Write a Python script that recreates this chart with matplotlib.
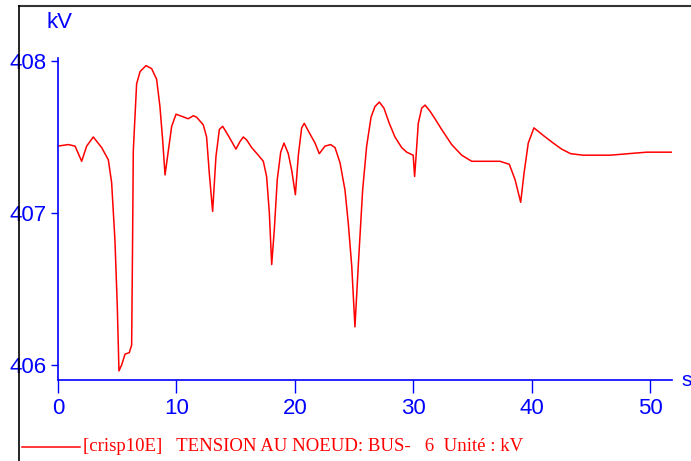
import matplotlib
matplotlib.use("Agg")
import matplotlib.pyplot as plt
from matplotlib.lines import Line2D

# time (s) and voltage (kV)
t = [0.0, 0.87, 1.44, 2.0, 2.42, 2.98, 3.69, 4.25, 4.53, 4.81, 5.01, 5.15, 5.38, 5.66,
     6.02, 6.22, 6.3, 6.36, 6.64, 6.93, 7.43, 7.91, 8.33, 8.61, 8.84, 9.04, 9.32, 9.6,
     9.97, 11.0, 11.43, 11.71, 12.27, 12.55, 12.78, 13.06, 13.34, 13.63, 13.91, 14.38,
     15.03, 15.37, 15.65, 15.94, 16.36, 16.92, 17.34, 17.62, 17.85, 18.05, 18.27, 18.52,
     18.81, 19.09, 19.45, 19.74, 20.05, 20.3, 20.58, 20.8, 21.28, 21.71, 22.07, 22.55,
     23.03, 23.4, 23.82, 24.24, 24.52, 24.81, 25.08, 25.36, 25.73, 26.07, 26.44, 26.77,
     27.14, 27.53, 27.98, 28.46, 29.03, 29.45, 30.0, 30.12, 30.24, 30.43, 30.72, 31.0,
     31.42, 31.84, 32.4, 33.25, 34.1, 34.94, 37.33, 38.12, 38.6, 39.08, 39.36, 39.72,
     40.2, 40.99, 41.83, 42.54, 43.3, 44.36, 46.62, 49.72, 51.82]
v = [407.44, 407.45, 407.44, 407.34, 407.44, 407.50, 407.43, 407.35, 407.20, 406.82,
     406.38, 405.96, 406.00, 406.07, 406.08, 406.13, 406.82, 407.41, 407.85, 407.93,
     407.97, 407.95, 407.88, 407.70, 407.48, 407.25, 407.41, 407.57, 407.65, 407.62,
     407.64, 407.63, 407.58, 407.50, 407.26, 407.01, 407.37, 407.55, 407.57, 407.51,
     407.42, 407.47, 407.50, 407.48, 407.43, 407.38, 407.34, 407.24, 407.00, 406.66,
     406.89, 407.22, 407.40, 407.46, 407.39, 407.28, 407.12, 407.38, 407.56, 407.59,
     407.52, 407.46, 407.39, 407.44, 407.45, 407.43, 407.33, 407.15, 406.93, 406.65,
     406.25, 406.65, 407.15, 407.44, 407.63, 407.70, 407.73, 407.69, 407.59, 407.50,
     407.43, 407.40, 407.38, 407.24, 407.37, 407.59, 407.69, 407.71, 407.67, 407.62,
     407.55, 407.45, 407.38, 407.34, 407.34, 407.32, 407.22, 407.07, 407.26, 407.46,
     407.56, 407.51, 407.46, 407.42, 407.39, 407.38, 407.38, 407.40, 407.40]

xticks = [0, 10, 20, 30, 40, 50]
yticks = [406, 407, 408]
legend_text = "[crisp10E]   TENSION AU NOEUD: BUS-   6  Unité : kV"

BLUE = "#0000ff"
RED = "#ff0000"
tickfont = ["Liberation Sans", "DejaVu Sans"]

fig = plt.figure(figsize=(6.91, 4.61), dpi=100)
ax = fig.add_axes([58/691, 81/461, (672-58)/691, (380-58)/461])
ax.plot(t, v, color=RED, lw=1.1)
ax.set_xlim(0, 51.86)
ax.set_ylim(405.9, 408.02)

for s in ["top", "right"]:
    ax.spines[s].set_visible(False)
for s in ["left", "bottom"]:
    ax.spines[s].set_color(BLUE)
    ax.spines[s].set_linewidth(1.2)

ax.set_xticks(xticks)
ax.set_yticks(yticks)
ax.tick_params(axis="x", colors=BLUE, length=9, width=1, pad=4, labelsize=16)
ax.tick_params(axis="y", colors=BLUE, length=5, width=1, pad=3, labelsize=16)
for lab in ax.get_xticklabels() + ax.get_yticklabels():
    lab.set_family(tickfont)

fig.text(60/691, 1 - 22/461, "kV", color=BLUE, fontsize=16, family=tickfont,
         ha="center", va="center")
fig.text(681/691, 1 - 381/461, "s", color=BLUE, fontsize=15, family=tickfont,
         ha="left", va="center")

# legend line and text
fig.add_artist(Line2D([22/691, 80/691], [1 - 447/461, 1 - 447/461], color=RED, lw=1.1))
fig.text(83/691, 1 - 446/461, legend_text, color=RED, fontsize=13.5,
         family=["Liberation Serif", "DejaVu Serif"], ha="left", va="center")

# outer frame lines (top and left)
fig.add_artist(Line2D([19/691, 1.0], [1 - 6/461, 1 - 6/461], color="#333333", lw=1.5))
fig.add_artist(Line2D([19/691, 19/691], [1 - 6/461, 0.0], color="black", lw=1.2))

fig.savefig("out.png", dpi=100)
